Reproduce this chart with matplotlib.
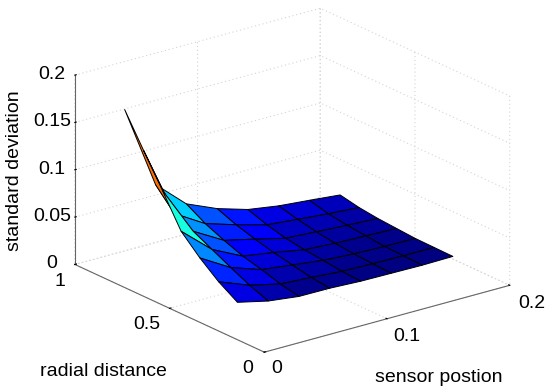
import numpy as np
import matplotlib
matplotlib.use("Agg")
import matplotlib.pyplot as plt
import matplotlib.transforms as mtrans
from matplotlib import cm
from matplotlib.colors import Normalize

plt.rcParams['font.family'] = ['Liberation Sans', 'DejaVu Sans']

sensor_position = [0.0, 0.0251, 0.0502, 0.0753, 0.1004, 0.1254, 0.1505, 0.1756]
radial_distance = [0.142, 0.241, 0.340, 0.439, 0.538, 0.637, 0.737]
# each row: one radial distance, across sensor positions
r0 = [0.0395, 0.0320, 0.0280, 0.0278, 0.0263, 0.0259, 0.0255, 0.0260]
r1 = [0.0520, 0.0395, 0.0320, 0.0300, 0.0275, 0.0268, 0.0263, 0.0263]
r2 = [0.0680, 0.0490, 0.0380, 0.0340, 0.0300, 0.0280, 0.0270, 0.0266]
r3 = [0.0870, 0.0590, 0.0430, 0.0380, 0.0320, 0.0300, 0.0290, 0.0280]
r4 = [0.1210, 0.0690, 0.0505, 0.0430, 0.0350, 0.0330, 0.0310, 0.0294]
r5 = [0.1540, 0.0785, 0.0590, 0.0490, 0.0400, 0.0370, 0.0340, 0.0318]
r6 = [0.1880, 0.1000, 0.0707, 0.0568, 0.0470, 0.0420, 0.0390, 0.0358]
std_dev = np.array([r0, r1, r2, r3, r4, r5, r6])

x_ticks = [0, 0.1, 0.2]
y_ticks = [0, 0.5, 1]
z_ticks = [0, 0.05, 0.1, 0.15, 0.2]

fig = plt.figure(figsize=(5.5, 3.91), dpi=100)
ax = fig.add_axes([12 / 550, 10 / 391, 1, 1], projection='3d', proj_type='ortho')
ax.view_init(elev=20.8, azim=-127.5)
ax.set_box_aspect((310, 312, 203), zoom=1.2)
ax.set_xlim(0, 0.2, view_margin=0)
ax.set_ylim(0, 1, view_margin=0)
ax.set_zlim(0, 0.2, view_margin=0)

X, Y = np.meshgrid(sensor_position, radial_distance)
norm = Normalize(std_dev.min(), std_dev.max())
ax.plot_surface(X, Y, std_dev, rstride=1, cstride=1, facecolors=cm.jet(norm(std_dev)),
                edgecolor='black', linewidth=0.7, shade=False, antialiased=True)

ax.set_xticks(x_ticks, ['0', '0.1', '0.2'])
ax.set_yticks(y_ticks, ['0', '0.5', '1'])
ax.set_zticks(z_ticks, ['0', '0.05', '0.1', '0.15', '0.2'])
ax.tick_params(labelsize=14, colors='black', pad=3)
ax.tick_params(axis='z', pad=1)

for axis in (ax.xaxis, ax.yaxis, ax.zaxis):
    axis.set_pane_color((1, 1, 1, 0))
    axis.pane.set_edgecolor((1, 1, 1, 0))
    axis.line.set_color('#666666')
    axis.line.set_linewidth(0.8)
    axis._axinfo['grid'].update(color='#d4d4d4', linestyle=(0, (1, 2.5)), linewidth=0.8)
    axis._axinfo['tick'].update(inward_factor=0.0, outward_factor=0.07)
    axis._axinfo['tick']['color'] = '#666666'


def nudge_tick_labels(axis, offsets):
    """Axis3D resets label transforms in get_major_ticks, so re-apply pixel offsets there."""
    original = axis.get_major_ticks

    def patched(numticks=None):
        ticks = original(numticks)
        for tick, (dx, dy) in zip(ticks, offsets):
            tick.label1.set_transform(
                ax.transData + mtrans.ScaledTranslation(dx / 100, dy / 100, fig.dpi_scale_trans))
        return ticks

    axis.get_major_ticks = patched


nudge_tick_labels(ax.xaxis, [(-2, 13), (6, 12), (8, 11)])
nudge_tick_labels(ax.yaxis, [(2, 11), (-4, 12), (4, 11)])
nudge_tick_labels(ax.zaxis, [(4, 8)] * 5)

ax.text2D(439 / 550, 1 - 377 / 391, 'sensor postion', transform=fig.transFigure,
          ha='center', va='center', fontsize=14)
ax.text2D(103.5 / 550, 1 - 371 / 391, 'radial distance', transform=fig.transFigure,
          ha='center', va='center', fontsize=14)
ax.text2D(15 / 550, 1 - 171 / 391, 'standard deviation', transform=fig.transFigure,
          ha='center', va='center', rotation=90, fontsize=14)

fig.savefig('out.png', dpi=100)
